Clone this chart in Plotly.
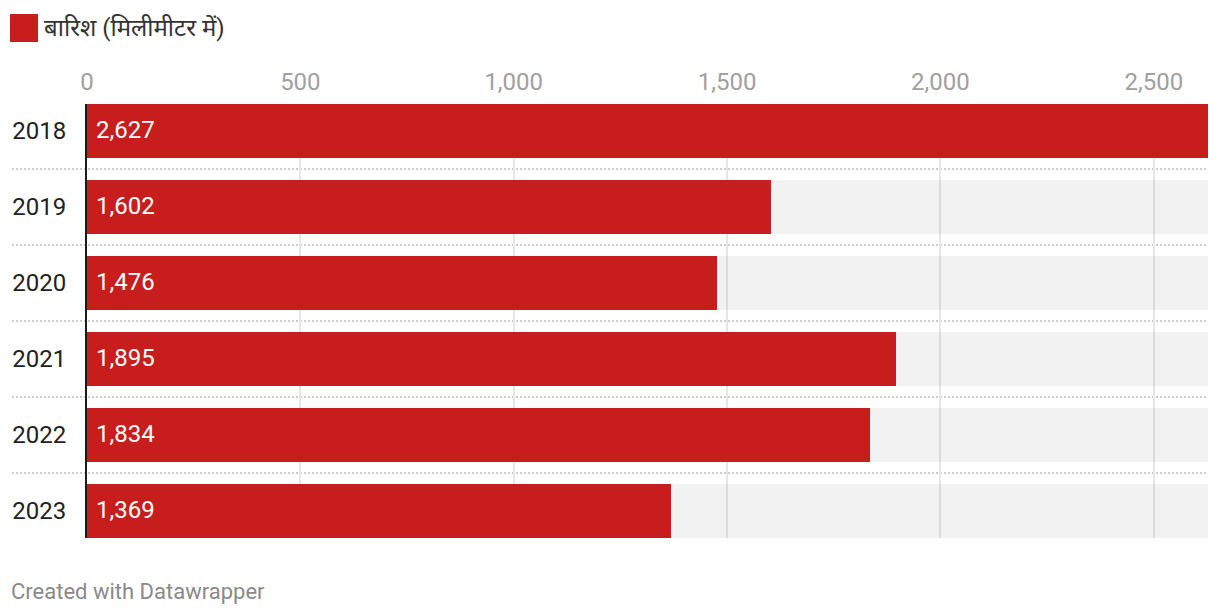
import plotly.graph_objects as go

years = ["2018", "2019", "2020", "2021", "2022", "2023"]
rain_mm = [2627, 1602, 1476, 1895, 1834, 1369]
legend_label = "बारिश (मिलीमीटर में)"
x_ticks = [0, 500, 1000, 1500, 2000, 2500]
credit = "Created with Datawrapper"

RED = "#c71e1d"
FONT = "Roboto, 'Noto Sans', sans-serif"
W, H = 1220, 616
ML, MR, MT, MB = 87, 12, 104, 78
PW, PH = W - ML - MR, H - MT - MB
BAR_W = 54 / 76
n = len(years)
vmax = max(rain_mm)

fig = go.Figure()
# background track bars (semi-transparent so gridlines show through)
fig.add_trace(go.Bar(
    y=years, x=[vmax] * n, orientation="h", width=BAR_W,
    marker=dict(color="rgba(0,0,0,0.05)", line=dict(width=0)),
    hoverinfo="skip", showlegend=False,
))
fig.add_trace(go.Bar(
    y=years, x=rain_mm, orientation="h", width=BAR_W, name=legend_label,
    marker=dict(color=RED, line=dict(width=0)), showlegend=False,
))

shapes = []
# dotted row separators
for i in range(n - 1):
    shapes.append(dict(
        type="line", xref="paper", yref="y",
        x0=(12 - ML) / PW, x1=1, y0=i + 0.5, y1=i + 0.5,
        line=dict(color="#cccccc", width=2, dash="2px,2px"), layer="below",
    ))
# legend swatch
shapes.append(dict(
    type="rect", xref="paper", yref="paper",
    x0=(10 - ML) / PW, x1=(38 - ML) / PW,
    y0=1 + (MT - 42) / PH, y1=1 + (MT - 14) / PH,
    fillcolor=RED, line=dict(width=0),
))

annotations = []
for i, v in enumerate(rain_mm):
    annotations.append(dict(
        x=0, y=i, xref="x", yref="y", text=f"{v:,}", showarrow=False,
        xanchor="left", yanchor="middle", xshift=7, yshift=1,
        font=dict(family=FONT, size=24, color="white"),
    ))
annotations.append(dict(
    x=(42 - ML) / PW, y=1 + (MT - 28) / PH, xref="paper", yref="paper",
    text=legend_label, showarrow=False, xanchor="left", yanchor="middle",
    font=dict(family=FONT, size=24, color="#333333"),
))
annotations.append(dict(
    x=(9 - ML) / PW, y=-(591 - (H - MB)) / PH, xref="paper", yref="paper",
    text=credit, showarrow=False, xanchor="left", yanchor="middle",
    font=dict(family=FONT, size=22, color="#8a8a8a"),
))

fig.update_layout(
    width=W, height=H,
    margin=dict(l=ML, r=MR, t=MT, b=MB, pad=0),
    paper_bgcolor="white", plot_bgcolor="white",
    barmode="overlay", bargap=0,
    font=dict(family=FONT, size=23, color="#222222"),
    shapes=shapes, annotations=annotations,
    xaxis=dict(
        side="top", range=[0, vmax], tickvals=x_ticks, tickformat=",",
        showgrid=True, gridcolor="#e6e6e6", gridwidth=2, zeroline=False,
        ticks="", ticklabelstandoff=8,
        tickfont=dict(family=FONT, size=24, color="#a0a0a0"),
        fixedrange=True,
    ),
    yaxis=dict(
        type="category", categoryorder="array", categoryarray=years,
        range=[n - 1 + BAR_W / 2, -BAR_W / 2],
        showgrid=False, zeroline=False, showline=True,
        linecolor="#1a1a1a", linewidth=2, ticks="", ticklabelstandoff=14,
        tickfont=dict(family=FONT, size=24, color="#222222"),
        fixedrange=True,
    ),
)

fig.write_html("out.html", config={"displayModeBar": False})
